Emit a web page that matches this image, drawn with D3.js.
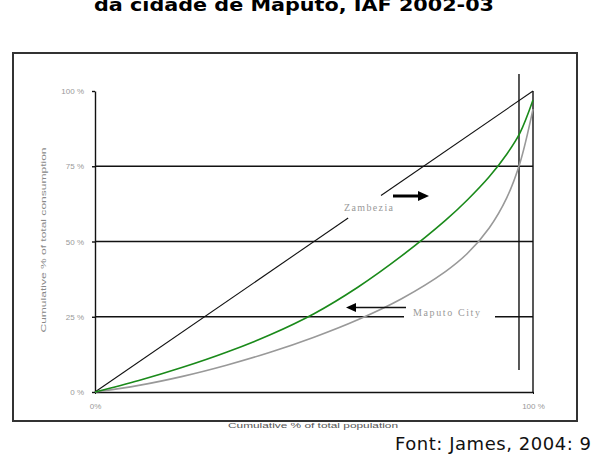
<!DOCTYPE html>
<html><head><meta charset="utf-8">
<script src="https://cdn.jsdelivr.net/npm/d3@7/dist/d3.min.js"></script>
<style>body{margin:0;background:#fff}svg{display:block}</style>
</head><body>
<svg id="c" width="597" height="458"></svg>
<script>
// Data (cumulative % of population, cumulative % of consumption)
const equalityA = [[0,0],[57.8,57.8]];
const equalityB = [[65.3,65.3],[100,100]];
const maputoGreen = [[0,0],[10,3.8],[20,8.2],[30,13.2],[40,19.0],[50,26.0],[60,34.8],[70,45.2],[80,57.0],[85,63.8],[90,71.5],[94,79],[97,86],[100,97]];
const zambeziaGray = [[0,0],[10,2.2],[20,5.2],[30,8.9],[40,13.2],[50,18.2],[60,24.0],[70,31.0],[80,40.0],[85,46.0],[90,54.5],[94,64.5],[97,76],[100,94]];
const yTicks = [0,25,50,75,100];
const yTickLabels = ["0 %","25 %","50 %","75 %","100 %"];
const xTicks = [0,100];
const xTickLabels = ["0%","100 %"];
const gridFull = [50,75];

const svg = d3.select("#c");
const x = d3.scaleLinear([0,100],[95,533]);
const y = d3.scaleLinear([0,100],[392,91]);

// title (cut at top, as in the reference)
svg.append("text").attr("x",294).attr("y",11).attr("text-anchor","middle")
  .attr("font-family","DejaVu Sans").attr("font-weight","bold").attr("font-size",17)
  .attr("textLength",400).attr("lengthAdjust","spacingAndGlyphs")
  .text("da cidade de Maputo, IAF 2002-03");

// outer frame
svg.append("rect").attr("x",13).attr("y",53).attr("width",564).attr("height",368)
  .attr("fill","none").attr("stroke","#333").attr("stroke-width",2);

// grid lines
svg.selectAll("line.g").data(gridFull).join("line").attr("class","g")
  .attr("x1",x(0)).attr("x2",x(100)).attr("y1",d=>y(d)).attr("y2",d=>y(d))
  .attr("stroke","#111").attr("stroke-width",1.4);
svg.append("line").attr("x1",x(0)).attr("x2",404).attr("y1",y(25)).attr("y2",y(25)).attr("stroke","#111").attr("stroke-width",1.4);
svg.append("line").attr("x1",495).attr("x2",x(100)).attr("y1",y(25)).attr("y2",y(25)).attr("stroke","#111").attr("stroke-width",1.4);
// right border line
svg.append("line").attr("x1",x(100)).attr("x2",x(100)).attr("y1",y(100)).attr("y2",y(0)).attr("stroke","#111").attr("stroke-width",1.4);
// vertical reference line
svg.append("line").attr("x1",x(96.8)).attr("x2",x(96.8)).attr("y1",74).attr("y2",370).attr("stroke","#111").attr("stroke-width",1.4);

// axes
const ya = svg.append("g").attr("transform",`translate(${x(0)},0)`)
  .call(d3.axisLeft(y).tickValues(yTicks).tickFormat((d,i)=>yTickLabels[i]).tickSize(3).tickSizeOuter(0).tickPadding(8));
ya.select(".domain").attr("stroke","#111").attr("stroke-width",1.4);
ya.selectAll(".tick line").attr("stroke","#111").attr("stroke-width",1.4);
ya.selectAll("text").attr("fill","#999").attr("font-family","Liberation Sans").attr("font-size",8);

const xa = svg.append("g").attr("transform",`translate(0,${y(0)})`)
  .call(d3.axisBottom(x).tickValues(xTicks).tickFormat((d,i)=>xTickLabels[i]).tickSize(2).tickSizeOuter(0).tickPadding(9));
xa.select(".domain").attr("stroke","#111").attr("stroke-width",1.4);
xa.selectAll(".tick line").attr("stroke","#111");
xa.selectAll("text").attr("fill","#999").attr("font-family","Liberation Sans").attr("font-size",8);

// axis titles
svg.append("text").attr("transform","translate(46,240) rotate(-90)").attr("text-anchor","middle")
  .attr("font-family","Liberation Sans").attr("font-size",8).attr("fill","#888")
  .attr("textLength",185).attr("lengthAdjust","spacingAndGlyphs")
  .text("Cumulative % of total consumption");
svg.append("text").attr("x",313).attr("y",428).attr("text-anchor","middle")
  .attr("font-family","Liberation Sans").attr("font-size",8).attr("fill","#555")
  .attr("textLength",170).attr("lengthAdjust","spacingAndGlyphs")
  .text("Cumulative % of total population");

// curves
const line = d3.line().x(d=>x(d[0])).y(d=>y(d[1]));
const lineC = d3.line().x(d=>x(d[0])).y(d=>y(d[1])).curve(d3.curveCatmullRom.alpha(0.5));
[equalityA,equalityB].forEach(s=>svg.append("path").attr("d",line(s)).attr("fill","none").attr("stroke","#111").attr("stroke-width",1.1));
svg.append("path").attr("d",lineC(zambeziaGray)).attr("fill","none").attr("stroke","#999").attr("stroke-width",1.6);
svg.append("path").attr("d",lineC(maputoGreen)).attr("fill","none").attr("stroke","#1a8a1a").attr("stroke-width",1.6);

// labels & arrows
svg.append("text").attr("x",344).attr("y",211).attr("font-family","Liberation Serif").attr("font-size",10)
  .attr("fill","#999").attr("textLength",49).text("Zambezia");
svg.append("text").attr("x",413).attr("y",316).attr("font-family","Liberation Serif").attr("font-size",10)
  .attr("fill","#999").attr("textLength",67).text("Maputo City");
svg.append("line").attr("x1",393).attr("x2",420).attr("y1",196).attr("y2",196).attr("stroke","#000").attr("stroke-width",3);
svg.append("path").attr("d","M418,191 L429,196 L418,201 Z").attr("fill","#000");
svg.append("line").attr("x1",406).attr("x2",354).attr("y1",307.5).attr("y2",307.5).attr("stroke","#111").attr("stroke-width",1.4);
svg.append("path").attr("d","M346,307.5 L356,303 L356,312 Z").attr("fill","#000");

// source
svg.append("text").attr("x",591).attr("y",450).attr("text-anchor","end")
  .attr("font-family","DejaVu Sans").attr("font-size",18).attr("fill","#111")
  .attr("textLength",196).text("Font: James, 2004: 9");
</script>
</body></html>
